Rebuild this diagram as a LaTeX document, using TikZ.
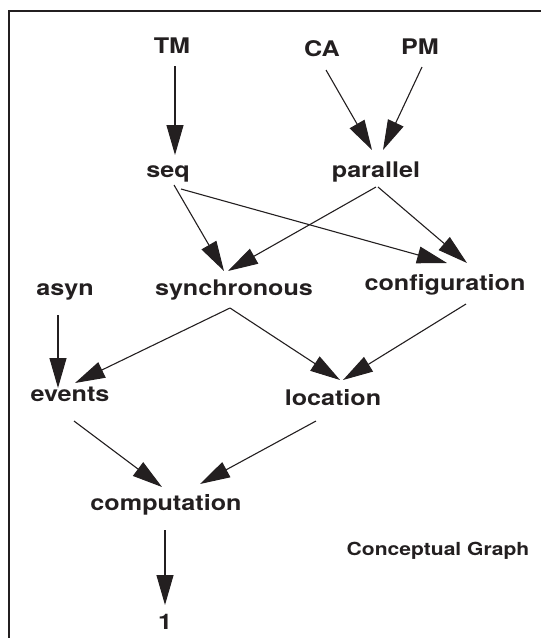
\documentclass[tikz,border=0pt]{standalone}
\usepackage{fontspec}
\setmainfont{TeX Gyre Heros}[FakeStretch=1.17]
\usetikzlibrary{arrows.meta,calc}
\definecolor{ink}{HTML}{231F20}
\tikzset{
  lbl/.style={anchor=base, inner sep=0pt, text=ink, font=\fontsize{21.5}{25}\selectfont\bfseries},
  small/.style={anchor=base, inner sep=0pt, text=ink, font=\fontsize{18}{21}\selectfont\bfseries},
  arr/.style={draw=ink, line width=1.1pt, -{Triangle[length=30pt,width=17pt]}},
  frame/.style={draw=ink, line width=2.6pt}
}
\begin{document}
\begin{tikzpicture}[x=1pt,y=-1pt]
\useasboundingbox (0,0) rectangle (541,638);
\draw[frame] (545,11) -- (9,11) -- (9,645);
\node[lbl] (TM) at (172,53) {TM};
\node[lbl] (CA) at (322,56) {CA};
\node[lbl] (PM) at (420,54) {PM};
\node[lbl] (seq) at (168,177) {seq};
\node[lbl] (par) at (376,177) {parallel};
\node[lbl] (asyn) at (65,295) {asyn};
\node[lbl] (sync) at (234,295) {synchronous};
\node[lbl] (conf) at (445,290) {configuration};
\node[lbl] (ev) at (70,401) {events};
\node[lbl] (loc) at (333,405) {location};
\node[lbl] (comp) at (166,510) {computation};
\node[lbl] (one) at (165,629) {1};
\node[small] (cg) at (438,555) {Conceptual Graph};
\draw[arr] ($(TM.base)+(3,13)$) -- ($(seq.base)+(7,-22)$);
\draw[arr] ($(CA.base)+(4,14)$) -- ($(par.base)+(-4,-27)$);
\draw[arr] ($(PM.base)+(2,13)$) -- ($(par.base)+(7,-27)$);
\draw[arr] ($(seq.base)+(6,8)$) -- ($(sync.base)+(-10,-24)$);
\draw[arr] ($(seq.base)+(13,12)$) -- ($(conf.base)+(2,-27)$);
\draw[arr] ($(par.base)+(0,10)$) -- ($(sync.base)+(-6,-24)$);
\draw[arr] ($(par.base)+(2,10)$) -- ($(conf.base)+(22,-27)$);
\draw[arr] ($(asyn.base)+(-7,20)$) -- ($(ev.base)+(-12,-13)$);
\draw[arr] ($(sync.base)+(-4,13)$) -- ($(ev.base)+(5,-18)$);
\draw[arr] ($(sync.base)+(-4,13)$) -- ($(loc.base)+(7,-25)$);
\draw[arr] ($(conf.base)+(21,14)$) -- ($(loc.base)+(10,-25)$);
\draw[arr] ($(ev.base)+(4,20)$) -- ($(comp.base)+(-4,-23)$);
\draw[arr] ($(loc.base)+(-17,16)$) -- ($(comp.base)+(34,-26)$);
\draw[arr] ($(comp.base)+(-1,20)$) -- ($(one.base)+(0,-24)$);
\end{tikzpicture}
\end{document}
